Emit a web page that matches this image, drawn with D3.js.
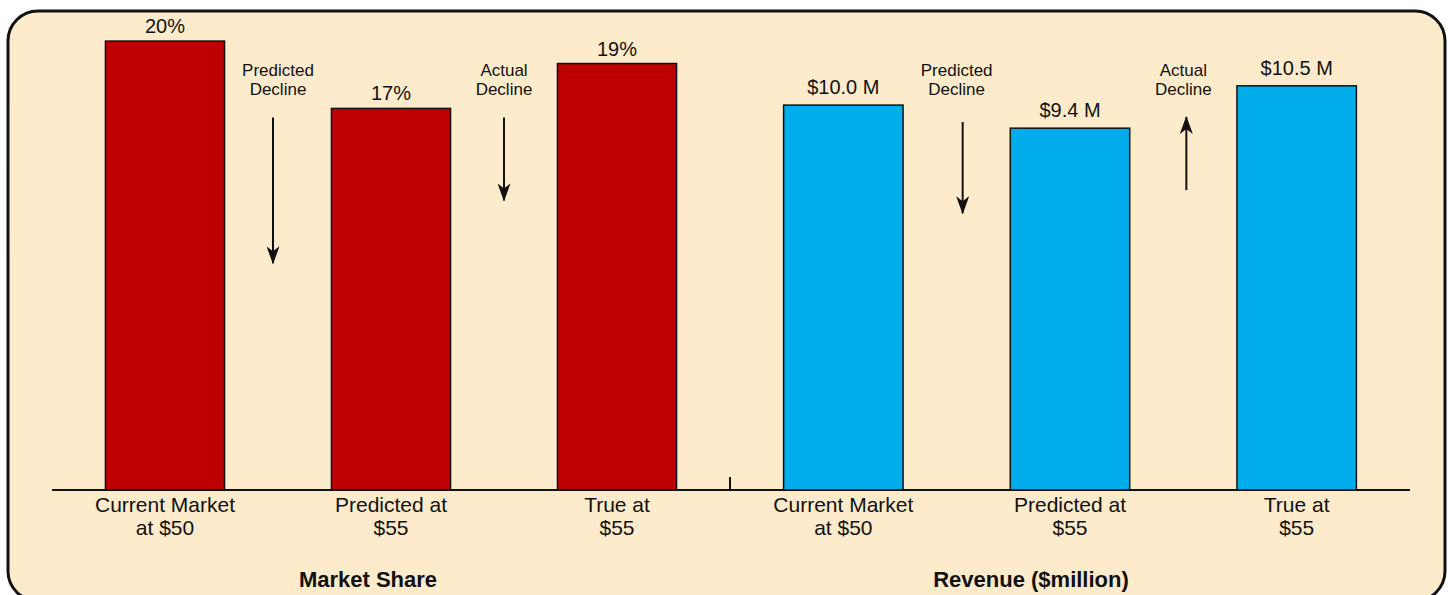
<!DOCTYPE html>
<meta charset="utf-8">
<head>
    <style>
        body { margin: 0; background: #ffffff; }
        text { font-family: "Liberation Sans", Arial, sans-serif; fill: #111; }
        .bar { stroke: #111; stroke-width: 1.5; }
        .axis-line { stroke: #111; stroke-width: 2; }
        .arrow { stroke: #111; stroke-width: 2; }
    </style>
    <script src="https://d3js.org/d3.v7.min.js"></script>
</head>
<body>
<svg id="chart"></svg>

<script>
    // data
    var categories = [["Current Market", "at $50"], ["Predicted at", "$55"], ["True at", "$55"]];
    var shareValues = [20, 17, 19];
    var shareLabels = ["20%", "17%", "19%"];
    var revenueValues = [10.0, 9.4, 10.5];
    var revenueLabels = ["$10.0 M", "$9.4 M", "$10.5 M"];
    var panelTitles = ["Market Share", "Revenue ($million)"];
    var noteLines = [["Predicted", "Decline"], ["Actual", "Decline"]];
    // arrows in each panel's value units: [from, to]
    var shareArrows = [[16.6, 10.1], [16.6, 12.9]];
    var revenueArrows = [[9.56, 7.19], [7.79, 9.69]];

    var width = 1448, height = 595;
    var baseline = 490;

    var svg = d3.select("#chart")
        .attr("width", width)
        .attr("height", height);

    // arrow head
    svg.append("defs").append("marker")
        .attr("id", "head")
        .attr("markerUnits", "userSpaceOnUse")
        .attr("viewBox", "0 0 18 13")
        .attr("markerWidth", 18)
        .attr("markerHeight", 13)
        .attr("refX", 17)
        .attr("refY", 6.5)
        .attr("orient", "auto")
        .append("path")
        .attr("d", "M0,0 L18,6.5 L0,13 L5,6.5 Z")
        .attr("fill", "#111");

    // background panel
    svg.append("rect")
        .attr("x", 8).attr("y", 11)
        .attr("width", 1437).attr("height", 590)
        .attr("rx", 30).attr("ry", 30)
        .attr("fill", "#fdebcb")
        .attr("stroke", "#111")
        .attr("stroke-width", 3);

    var panels = [
        {values: shareValues, labels: shareLabels, arrows: shareArrows, color: "#bc0000",
         range: [52, 730], domainMax: 21.83, labelGap: 8, title: panelTitles[0], titleX: 368,
         arrowShift: [-5, 0]},
        {values: revenueValues, labels: revenueLabels, arrows: revenueArrows, color: "#00adeb",
         range: [730, 1410], domainMax: 12.73, labelGap: 11, title: panelTitles[1], titleX: 1031,
         arrowShift: [6, 3]}
    ];

    // shared axis line + divider tick
    svg.append("line").attr("class", "axis-line")
        .attr("x1", 52).attr("x2", 1410)
        .attr("y1", baseline).attr("y2", baseline);
    svg.append("line").attr("class", "axis-line")
        .attr("x1", 730).attr("x2", 730)
        .attr("y1", baseline - 13).attr("y2", baseline);

    panels.forEach(function(p){
        var x = d3.scaleBand()
            .domain(d3.range(categories.length))
            .range(p.range)
            .paddingInner(0.473)
            .paddingOuter(0.2365);

        var y = d3.scaleLinear()
            .domain([0, p.domainMax])
            .range([baseline, 0]);

        var g = svg.append("g");

        g.selectAll("rect.bar")
            .data(p.values)
            .enter()
            .append("rect")
            .attr("class", "bar")
            .attr("x", function(d, i){ return x(i); })
            .attr("y", function(d){ return y(d); })
            .attr("width", x.bandwidth())
            .attr("height", function(d){ return baseline - y(d); })
            .attr("fill", p.color);

        g.selectAll("text.value")
            .data(p.values)
            .enter()
            .append("text")
            .attr("class", "value")
            .attr("x", function(d, i){ return x(i) + x.bandwidth() / 2; })
            .attr("y", function(d){ return y(d) - p.labelGap; })
            .attr("text-anchor", "middle")
            .style("font-size", "20px")
            .text(function(d, i){ return p.labels[i]; });

        // category labels (two lines)
        var cat = g.selectAll("text.cat")
            .data(categories)
            .enter()
            .append("text")
            .attr("class", "cat")
            .attr("text-anchor", "middle")
            .style("font-size", "21px");
        cat.selectAll("tspan")
            .data(function(d, i){ return d.map(function(s){ return {s: s, i: i}; }); })
            .enter()
            .append("tspan")
            .attr("x", function(d){ return x(d.i) + x.bandwidth() / 2; })
            .attr("y", function(d, j){ return baseline + 22 + j * 23; })
            .text(function(d){ return d.s; });

        // annotations between bars
        p.arrows.forEach(function(a, k){
            var gapMid = (x(k) + x.bandwidth() + x(k + 1)) / 2;
            var note = g.append("text")
                .attr("text-anchor", "middle")
                .style("font-size", "17px");
            noteLines[k].forEach(function(s, j){
                note.append("tspan")
                    .attr("x", gapMid)
                    .attr("y", 76 + j * 19)
                    .text(s);
            });
            g.append("line")
                .attr("class", "arrow")
                .attr("x1", gapMid + p.arrowShift[k]).attr("x2", gapMid + p.arrowShift[k])
                .attr("y1", y(a[0])).attr("y2", y(a[1]))
                .attr("marker-end", "url(#head)");
        });

        g.append("text")
            .attr("x", p.titleX)
            .attr("y", 587)
            .attr("text-anchor", "middle")
            .style("font-size", "22px")
            .style("font-weight", "bold")
            .text(p.title);
    });
</script>
</body>
